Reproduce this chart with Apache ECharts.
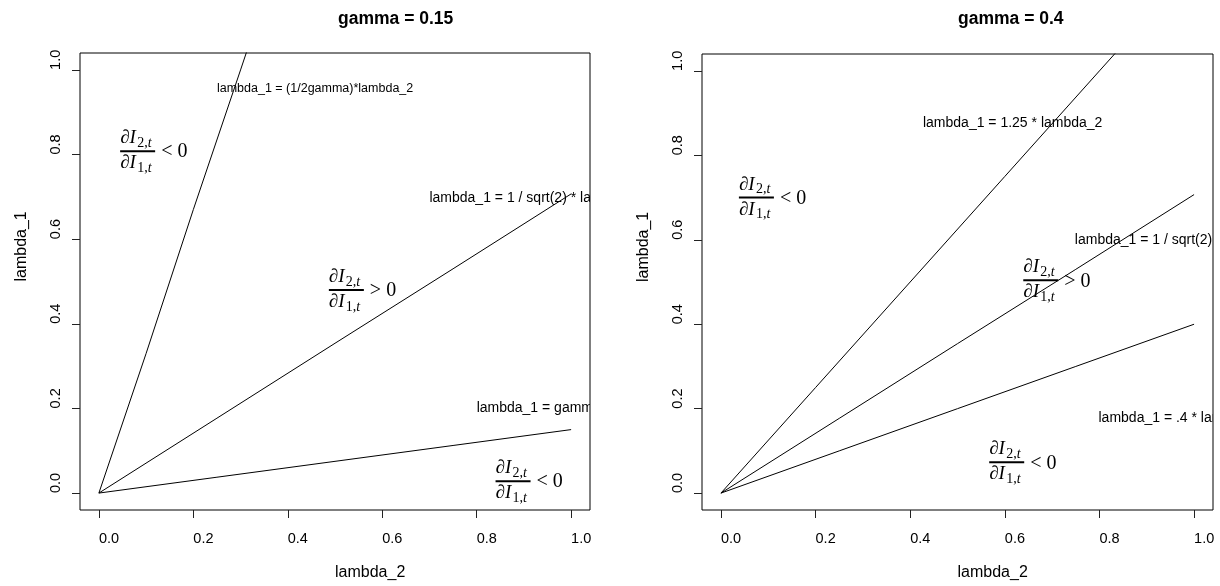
<!DOCTYPE html>
<html>
<head>
<meta charset="utf-8">
<script src="https://cdn.jsdelivr.net/npm/echarts@6/dist/echarts.min.js"></script>
<style>
  html, body { margin: 0; padding: 0; background: #fff; }
  #chart { width: 1220px; height: 586px; }
</style>
</head>
<body>
<div id="chart"></div>
<script>
// tick positions shared by both axes of both panels
const ticks = [0, 0.2, 0.4, 0.6, 0.8, 1.0];
const titles = ['gamma = 0.15', 'gamma = 0.4'];

// gamma = 0.15 panel, lines
const leftSteepX = [0, 0.1, 0.2, 0.3, 0.33];
const leftSteepY = [0, 0.33, 0.67, 1.0, 1.1];
const leftX = [0, 0.25, 0.5, 0.75, 1.0];
const leftSqrtY = [0, 0.177, 0.354, 0.53, 0.707];
const leftGammaY = [0, 0.0375, 0.075, 0.1125, 0.15];

// gamma = 0.4 panel
const rightSteepX = [0, 0.2, 0.4, 0.6, 0.8, 0.86];
const rightSteepY = [0, 0.25, 0.5, 0.75, 1.0, 1.075];
const rightX = [0, 0.25, 0.5, 0.75, 1.0];
const rightSqrtY = [0, 0.177, 0.354, 0.53, 0.707];
const rightGammaY = [0, 0.1, 0.2, 0.3, 0.4];

// text notes (clipped by the plot box like in R)
const leftNotes = ['lambda_1 = (1/2gamma)*lambda_2', 'lambda_1 = 1 / sqrt(2) * lambda_2', 'lambda_1 = gamma * lambda_2'];
const leftNoteX = [0.250, 0.70, 0.80];
const leftNoteY = [0.955, 0.696, 0.20];
const leftNoteSize = [12.5, 14, 14];
const rightNotes = ['lambda_1 = 1.25 * lambda_2', 'lambda_1 = 1 / sqrt(2) * lambda_2', 'lambda_1 = .4 * lambda_2'];
const rightNoteX = [0.427, 0.748, 0.798];
const rightNoteY = [0.877, 0.598, 0.177];
const rightNoteSize = [14, 14, 14];

// derivative fractions dI2/dI1 with their sign
const leftFracX = [0.045, 0.487, 0.84];
const leftFracY = [0.808, 0.480, 0.028];
const leftFracSign = ['<', '>', '<'];
const rightFracX = [0.038, 0.639, 0.567];
const rightFracY = [0.70, 0.504, 0.073];
const rightFracSign = ['<', '>', '<'];

const zip = (xs, ys) => xs.map((x, i) => [x, ys[i]]);

const SANS = '"Liberation Sans", Arial, sans-serif';
const SERIF = '"Liberation Serif", "DejaVu Serif", serif';

const chart = echarts.init(document.getElementById('chart'));

function axisX(idx) {
  return {
    type: 'value', gridIndex: idx, min: -0.04, max: 1.04,
    name: 'lambda_2', nameLocation: 'middle', nameGap: 63,
    nameTextStyle: { fontFamily: SANS, fontSize: 16, color: '#000', align: 'left', verticalAlign: 'middle' },
    axisLine: { show: false, onZero: false },
    splitLine: { show: false },
    axisTick: { show: true, inside: false, customValues: ticks, length: 8, lineStyle: { color: '#222', width: 1 } },
    axisLabel: {
      customValues: ticks, formatter: v => v.toFixed(1), margin: 21,
      align: 'left', fontFamily: SANS, fontSize: 14.5, color: '#000'
    }
  };
}

function axisY(idx) {
  return {
    type: 'value', gridIndex: idx, min: -0.04, max: 1.04,
    name: 'lambda_1', nameLocation: 'middle', nameGap: 58, nameRotate: 90,
    nameTextStyle: { fontFamily: SANS, fontSize: 16, color: '#000', align: 'left', verticalAlign: 'middle' },
    axisLine: { show: false, onZero: false },
    splitLine: { show: false },
    axisTick: { show: true, inside: false, customValues: ticks, length: 8, lineStyle: { color: '#222', width: 1 } },
    axisLabel: {
      customValues: ticks, formatter: v => v.toFixed(1), margin: 24, rotate: 90,
      align: 'left', verticalAlign: 'middle', fontFamily: SANS, fontSize: 14.5, color: '#000'
    }
  };
}

function line(idx, data) {
  return {
    type: 'line', xAxisIndex: idx, yAxisIndex: idx, data: data,
    symbol: 'none', clip: true,
    lineStyle: { color: '#000', width: 1 }
  };
}

function notes(idx, xs, ys, texts, sizes) {
  return {
    type: 'custom', xAxisIndex: idx, yAxisIndex: idx, clip: true,
    data: zip(xs, ys),
    renderItem: (params, api) => {
      const p = api.coord([api.value(0), api.value(1)]);
      const i = params.dataIndex;
      return {
        type: 'text', x: p[0], y: p[1],
        style: { text: texts[i], font: sizes[i] + 'px ' + SANS, fill: '#000', align: 'left', verticalAlign: 'middle' }
      };
    }
  };
}

const subRich = {
  n: { fontFamily: SERIF, fontSize: 14, fontStyle: 'normal', color: '#000' },
  i: { fontFamily: SERIF, fontSize: 14, fontStyle: 'italic', color: '#000' }
};

function fractions(idx, xs, ys, signs) {
  return {
    type: 'custom', xAxisIndex: idx, yAxisIndex: idx,
    data: zip(xs, ys),
    renderItem: (params, api) => {
      const p = api.coord([api.value(0), api.value(1)]);
      const sign = signs[params.dataIndex];
      return {
        type: 'group', x: p[0], y: p[1],
        children: [
          { type: 'line', shape: { x1: 0, y1: 0, x2: 35, y2: 0 }, style: { stroke: '#000', lineWidth: 2 } },
          { type: 'text', x: 0, y: -13, style: { text: '∂I', font: 'italic 19px ' + SERIF, fill: '#000', verticalAlign: 'middle' } },
          { type: 'text', x: 17, y: -8, style: { text: '{n|2,}{i|t}', rich: subRich, verticalAlign: 'middle' } },
          { type: 'text', x: 0, y: 12, style: { text: '∂I', font: 'italic 19px ' + SERIF, fill: '#000', verticalAlign: 'middle' } },
          { type: 'text', x: 17, y: 17, style: { text: '{n|1,}{i|t}', rich: subRich, verticalAlign: 'middle' } },
          { type: 'text', x: 41, y: 1, style: { text: sign + ' 0', font: '20px ' + SERIF, fill: '#000', verticalAlign: 'middle' } }
        ]
      };
    }
  };
}

const titleStyle = { fontFamily: SANS, fontWeight: 'bold', fontSize: 17.5, color: '#000' };

const option = {
  animation: false,
  backgroundColor: '#fff',
  title: [
    { text: titles[0], left: 338, top: 10, padding: 0, textStyle: titleStyle },
    { text: titles[1], left: 958, top: 10, padding: 0, textStyle: titleStyle }
  ],
  grid: [
    { left: 80, top: 53, width: 510, height: 457, show: true, borderColor: '#000', borderWidth: 1, backgroundColor: 'transparent' },
    { left: 702, top: 54, width: 511, height: 457, show: true, borderColor: '#000', borderWidth: 1, backgroundColor: 'transparent' }
  ],
  xAxis: [axisX(0), axisX(1)],
  yAxis: [axisY(0), axisY(1)],
  series: [
    line(0, zip(leftSteepX, leftSteepY)),
    line(0, zip(leftX, leftSqrtY)),
    line(0, zip(leftX, leftGammaY)),
    line(1, zip(rightSteepX, rightSteepY)),
    line(1, zip(rightX, rightSqrtY)),
    line(1, zip(rightX, rightGammaY)),
    notes(0, leftNoteX, leftNoteY, leftNotes, leftNoteSize),
    notes(1, rightNoteX, rightNoteY, rightNotes, rightNoteSize),
    fractions(0, leftFracX, leftFracY, leftFracSign),
    fractions(1, rightFracX, rightFracY, rightFracSign)
  ]
};

chart.setOption(option);
</script>
</body>
</html>
